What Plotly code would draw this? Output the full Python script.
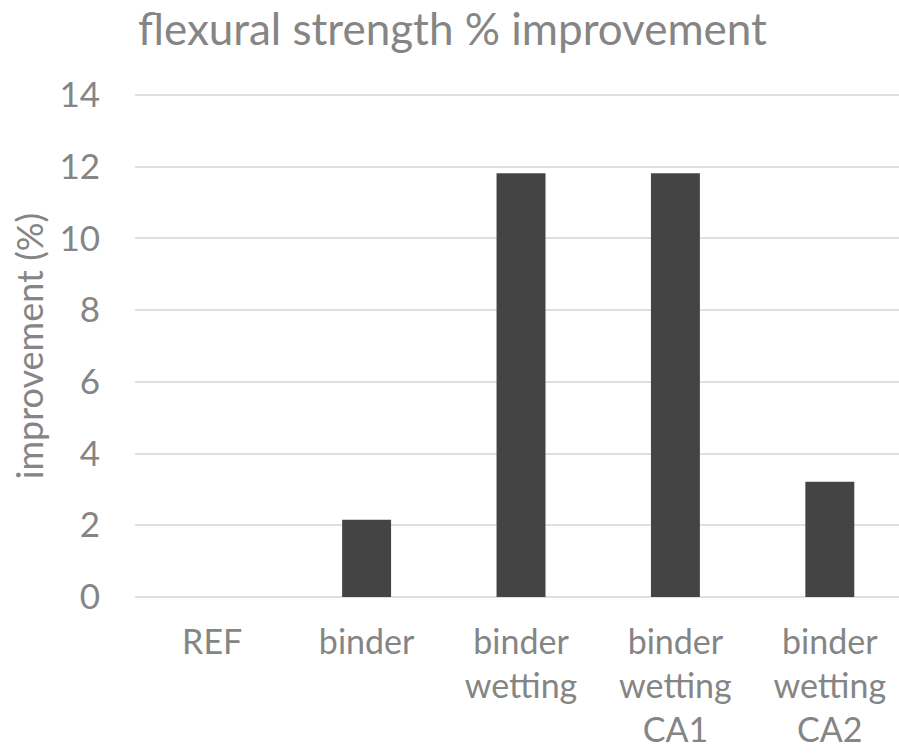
import plotly.graph_objects as go

# Flexural strength gain of each mix relative to the reference mix
categories = ["REF", "binder", "binder<br>wetting", "binder<br>wetting<br>CA1", "binder<br>wetting<br>CA2"]
improvement = [0, 2.15, 11.82, 11.82, 3.21]
y_ticks = [0, 2, 4, 6, 8, 10, 12, 14]

TEXT = "#858585"
GRID = "#e0e0e0"
FONT = "Lato, 'Open Sans', sans-serif"

fig = go.Figure(
    go.Bar(
        x=list(range(len(categories))),
        y=improvement,
        width=0.317,
        marker=dict(color="#444444", line=dict(width=0)),
        hoverinfo="skip",
    )
)

fig.update_layout(
    width=899,
    height=753,
    margin=dict(l=135, r=0, t=94, b=155),
    paper_bgcolor="white",
    plot_bgcolor="white",
    showlegend=False,
    font=dict(family=FONT, color=TEXT, size=35),
    title=dict(
        text="flexural strength % improvement",
        font=dict(family=FONT, size=44, color=TEXT),
        x=138 / 899,
        xanchor="left",
        xref="container",
        y=1 - 30 / 753,
        yanchor="middle",
        yref="container",
    ),
)

fig.update_xaxes(
    range=[-0.5, 4.448],
    tickmode="array",
    tickvals=list(range(len(categories))),
    ticktext=categories,
    showgrid=False,
    zeroline=False,
    showline=False,
    ticks="",
    ticklabelstandoff=21,
    tickfont=dict(size=34, color=TEXT),
    automargin=False,
)

fig.update_yaxes(
    range=[-0.03, 14.03],
    tickmode="array",
    tickvals=y_ticks,
    ticktext=[str(v) for v in y_ticks],
    showgrid=True,
    gridcolor=GRID,
    gridwidth=2,
    zeroline=False,
    showline=False,
    ticks="",
    ticklabelstandoff=34,
    tickfont=dict(size=35, color=TEXT),
    title=dict(text="improvement (%)", font=dict(size=36, color=TEXT), standoff=4),
    automargin=False,
)

fig.write_html("out.html")
